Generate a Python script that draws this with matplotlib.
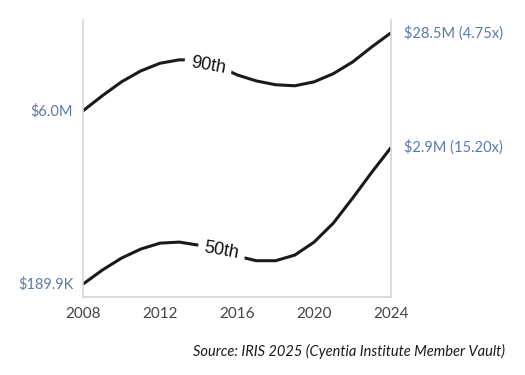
import numpy as np
import matplotlib.pyplot as plt

# valori (scala log)
years = list(range(2008, 2025))
p90 = [6.0e6, 8.1e6, 10.7e6, 13.3e6, 15.5e6, 16.6e6, 16.5e6, 14.7e6, 12.3e6,
       10.9e6, 10.1e6, 9.9e6, 10.7e6, 12.6e6, 15.9e6, 21.5e6, 28.5e6]
p50 = [189.9e3, 251e3, 319e3, 382e3, 430e3, 439e3, 413e3, 374e3, 332e3,
       303e3, 303e3, 339e3, 439e3, 641e3, 1.054e6, 1.77e6, 2.9e6]
start_labels = ['$6.0M', '$189.9K']
end_labels = ['$28.5M (4.75x)', '$2.9M (15.20x)']
line_names = ['90th', '50th']
xticks = [2008, 2012, 2016, 2020, 2024]

blue = '#5b79a9'
grey = '#d4d4d4'

fig = plt.figure(figsize=(5.25, 3.75), dpi=100)
ax = fig.add_axes([0.158, 0.208, 0.587, 0.739])

ax.plot(years, p90, color='#1a1a1a', lw=2.2, solid_capstyle='butt')
ax.plot(years, p50, color='#1a1a1a', lw=2.2, solid_capstyle='butt')

ax.set_yscale('log')
ax.set_xlim(2008, 2024)
ax.set_ylim(147e3, 36.8e6)

# eticheta pe linie, cu fundal alb care face golul
ax.text(2014.5, 14.8e6, line_names[0], fontsize=13, rotation=-10,
        ha='center', va='center', family='Liberation Sans', color='#111111',
        bbox=dict(facecolor='white', edgecolor='none', pad=4.5))
ax.text(2015.2, 372e3, line_names[1], fontsize=13, rotation=-10,
        ha='center', va='center', family='Liberation Sans', color='#111111',
        bbox=dict(facecolor='white', edgecolor='none', pad=4.5))

# etichete la capete
for serie, s_lab, e_lab in zip([p90, p50], start_labels, end_labels):
    ax.annotate(s_lab, (years[0], serie[0]), xytext=(-7, 0), textcoords='offset points',
                ha='right', va='center', color=blue, fontsize=10.5, family='Lato')
    ax.annotate(e_lab, (years[-1], serie[-1]), xytext=(9, 0), textcoords='offset points',
                ha='left', va='center', color=blue, fontsize=10.5, family='Lato')

for side in ['left', 'right', 'bottom']:
    ax.spines[side].set_color(grey)
    ax.spines[side].set_linewidth(1.2)
ax.spines['top'].set_visible(False)

ax.set_yticks([])
ax.yaxis.set_minor_locator(plt.NullLocator())
ax.set_xticks(xticks)
ax.set_xticklabels([str(x) for x in xticks], family='Lato', fontsize=11, color='#444444')
ax.tick_params(axis='x', length=0, pad=7)

fig.text(0.962, 0.062, 'Source: IRIS 2025 (Cyentia Institute Member Vault)', ha='right',
         va='center', fontsize=10.5, style='italic', family='Lato', color='#1a1a1a')

fig.savefig('out.png', dpi=100)
